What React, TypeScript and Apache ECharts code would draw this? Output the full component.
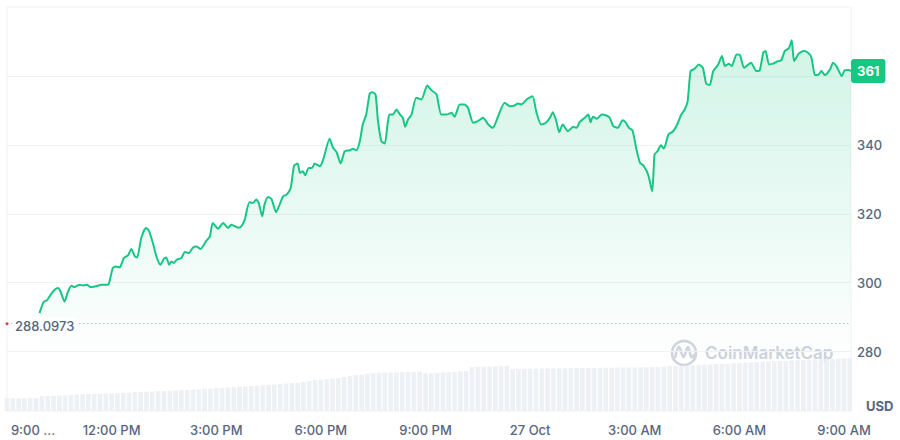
import React, { useEffect, useRef } from 'react';
import * as echarts from 'echarts';

// X axis: minutes since 9:00 AM (26 Oct), one tick every 3 hours
const xTickLabels = ['9:00 ...', '12:00 PM', '3:00 PM', '6:00 PM', '9:00 PM', '27 Oct', '3:00 AM', '6:00 AM', '9:00 AM'];
const xTickStepMinutes = 180;
const xMaxMinutes = 1452;

const openPrice = 288.0973;

const priceMinutes = [
  56, 63, 69, 75, 82, 88, 92, 99, 105, 111, 116, 125, 131, 138, 143, 151, 156, 162, 174, 177,
  182, 187, 194, 201, 208, 214, 220, 224, 231, 239, 244, 251, 257, 264, 270, 274, 279, 283, 287, 292,
  300, 306, 313, 320, 326, 333, 343, 349, 354, 363, 372, 380, 386, 398, 403, 409, 417, 423, 429, 433,
  439, 443, 449, 455, 463, 469, 475, 481, 488, 494, 500, 504, 509, 513, 519, 525, 529, 538, 544, 555,
  561, 567, 574, 581, 590, 595, 601, 607, 612, 618, 624, 628, 634, 638, 644, 650, 655, 658, 664, 670,
  676, 681, 685, 690, 696, 704, 713, 723, 730, 739, 747, 756, 765, 770, 779, 787, 793, 802, 810, 819,
  828, 836, 845, 856, 865, 873, 879, 885, 894, 904, 911, 919, 927, 934, 939, 945, 950, 956, 965, 974,
  980, 985, 994, 1000, 1004, 1008, 1015, 1023, 1031, 1037, 1043, 1051, 1059, 1064, 1070, 1076, 1083, 1089, 1095, 1103,
  1110, 1114, 1119, 1125, 1130, 1138, 1146, 1153, 1160, 1166, 1171, 1176, 1183, 1190, 1197, 1203, 1209, 1215, 1223, 1230,
  1235, 1242, 1247, 1255, 1261, 1268, 1280, 1289, 1295, 1301, 1305, 1311, 1318, 1326, 1332, 1338, 1345, 1350, 1354, 1362,
  1370, 1378, 1384, 1390, 1395, 1401, 1407, 1416, 1421, 1427, 1436, 1441, 1448, 1452,
];

const priceValues = [
  291.16, 294.36, 294.94, 296.48, 297.94, 298.43, 297.44, 294.53, 297.44, 299.10, 298.72, 299.39, 299.19, 299.39, 298.72, 298.90, 299.10, 299.39, 299.39, 300.84,
  304.24, 304.71, 304.42, 307.15, 307.91, 309.77, 307.62, 307.33, 312.97, 315.87, 315.09, 311.51, 307.62, 305.20, 306.95, 307.33, 305.20, 306.16, 305.70, 306.66,
  307.15, 308.90, 308.60, 310.23, 310.52, 309.77, 312.18, 313.43, 317.33, 315.67, 317.33, 315.87, 316.83, 315.96, 316.34, 318.28, 323.31, 323.14, 324.10, 323.14,
  319.24, 322.65, 324.88, 324.30, 320.41, 322.65, 325.06, 325.55, 327.50, 333.98, 334.56, 331.86, 332.33, 331.16, 333.31, 333.31, 334.56, 333.78, 335.73, 341.74,
  339.13, 337.85, 334.56, 338.14, 338.43, 338.84, 338.43, 341.05, 345.90, 348.81, 354.91, 355.29, 354.62, 347.35, 341.05, 340.38, 346.40, 348.81, 348.81, 350.26,
  348.81, 347.85, 345.23, 347.35, 348.81, 353.66, 353.17, 357.24, 355.87, 354.62, 348.81, 348.81, 349.30, 348.14, 351.72, 351.72, 350.76, 346.40, 346.86, 347.85,
  345.90, 344.94, 348.31, 352.21, 351.22, 351.42, 352.01, 351.72, 353.17, 354.13, 349.30, 345.90, 346.40, 347.85, 349.48, 346.86, 343.66, 345.90, 343.95, 345.23,
  344.94, 346.57, 347.85, 348.81, 346.57, 348.14, 347.56, 348.81, 348.52, 347.85, 345.41, 344.94, 347.15, 346.57, 344.94, 344.24, 338.63, 334.77, 333.98, 331.37,
  326.51, 337.18, 338.14, 339.88, 338.92, 342.99, 343.95, 345.90, 348.81, 350.26, 352.67, 361.40, 362.09, 363.34, 362.38, 357.73, 357.33, 361.40, 363.14, 365.76,
  362.85, 363.55, 362.85, 366.25, 366.05, 362.38, 363.84, 361.40, 361.60, 366.74, 367.21, 363.34, 363.55, 364.30, 364.51, 367.21, 367.99, 370.32, 364.30, 366.45,
  367.21, 366.74, 365.29, 360.23, 360.23, 361.40, 360.23, 361.89, 363.84, 362.85, 359.94, 361.60, 361.70, 361.40,
];

// Volume bars, one every 10 minutes from 9:00 AM, in millions USD
const volumeStepMinutes = 10;
const volumeValues = [
  127, 127, 128, 127, 129, 130, 150, 152, 153, 154,
  156, 162, 165, 167, 170, 171, 173, 175, 176, 178,
  180, 183, 188, 190, 193, 195, 198, 200, 203, 205,
  208, 210, 212, 215, 220, 223, 228, 230, 235, 238,
  242, 246, 250, 253, 258, 261, 265, 270, 275, 280,
  283, 290, 300, 308, 312, 320, 326, 330, 340, 350,
  358, 365, 374, 378, 380, 382, 385, 386, 388, 390,
  393, 393, 378, 376, 379, 384, 388, 392, 396, 400,
  437, 440, 443, 445, 446, 448, 450, 420, 422, 423,
  424, 425, 425, 426, 426, 427, 427, 428, 428, 429,
  430, 430, 432, 433, 433, 434, 434, 435, 435, 436,
  436, 437, 440, 446, 448, 450, 452, 455, 458, 460,
  463, 466, 469, 472, 474, 477, 480, 483, 486, 490,
  493, 496, 498, 501, 503, 506, 508, 510, 513, 515,
  518, 520, 522, 524, 526, 527,
];

const LABEL_COLOR = '#58667e';
const FONT = 'Inter, "Noto Sans", sans-serif';

export default function App() {
  const ref = useRef<HTMLDivElement>(null);

  useEffect(() => {
    if (!ref.current) return;
    const chart = echarts.init(ref.current, null, { renderer: 'svg' });

    const n = Math.min(priceMinutes.length, priceValues.length);
    const priceData: [number, number][] = [];
    for (let i = 0; i < n; i++) priceData.push([priceMinutes[i], priceValues[i]]);
    const volumeData = volumeValues.map((v, i) => [i * volumeStepMinutes, v]);

    const option: any = {
      animation: false,
      backgroundColor: '#ffffff',
      textStyle: { fontFamily: FONT },
      grid: [
        { left: 7, right: 49, top: 7, bottom: 19.5, show: false },
        { left: 7, right: 49, top: 340, bottom: 29, show: false },
        {
          left: 7, right: 49, top: 7, bottom: 29, show: true,
          borderColor: '#eff2f5', borderWidth: 1, backgroundColor: 'transparent',
        },
      ],
      xAxis: [
        { gridIndex: 0, type: 'value', min: 0, max: xMaxMinutes, interval: xTickStepMinutes, show: false },
        {
          gridIndex: 1, type: 'value', min: 0, max: xMaxMinutes, interval: xTickStepMinutes,
          axisLine: { show: false }, axisTick: { show: false }, splitLine: { show: false },
          axisLabel: {
            margin: 12, color: LABEL_COLOR, fontSize: 13, fontWeight: 500, fontFamily: FONT,
            formatter: (v: number) => {
              if (v % xTickStepMinutes !== 0) return '';
              const label = xTickLabels[Math.round(v / xTickStepMinutes)] ?? '';
              return v === 0 ? '{first|' + label + '}' : label;
            },
            rich: {
              first: { padding: [0, 0, 0, 52], color: LABEL_COLOR, fontSize: 13, fontWeight: 500, fontFamily: FONT },
            },
          },
        },
        { gridIndex: 2, type: 'value', min: 0, max: 1, show: false },
      ],
      yAxis: [
        {
          gridIndex: 0, type: 'value', position: 'right', min: 260, max: 380, interval: 20,
          axisLine: { show: false }, axisTick: { show: false },
          axisLabel: {
            margin: 6, color: LABEL_COLOR, fontSize: 13, fontWeight: 500, fontFamily: FONT,
            formatter: (v: number) => (v === 260 || v === 360 || v === 380 ? '' : String(v)),
          },
          splitLine: {
            show: true,
            lineStyle: {
              color: ['transparent', '#eff2f5', '#eff2f5', '#eff2f5', '#eff2f5', '#eff2f5', 'transparent'],
              width: 1,
            },
          },
        },
        { gridIndex: 1, type: 'value', min: 0, max: 710, show: false },
        { gridIndex: 2, type: 'value', min: 0, max: 1, show: false },
      ],
      graphic: [
        {
          type: 'text', left: 866, top: 399, silent: true,
          style: { text: 'USD', fill: LABEL_COLOR, font: 'bold 13px Inter, sans-serif' },
        },
        {
          type: 'group', silent: true, z: 5,
          children: [
            {
              type: 'circle', shape: { cx: 684, cy: 353, r: 12 },
              style: { fill: 'none', stroke: '#cfd5df', lineWidth: 2.6 },
            },
            {
              type: 'polyline',
              shape: { points: [[675, 358], [679, 347], [683.5, 357], [688, 347], [691.5, 357], [695, 354]], smooth: 0.4 },
              style: { fill: 'none', stroke: '#cfd5df', lineWidth: 2.6 },
            },
            {
              type: 'text', x: 705, y: 344,
              style: { text: 'CoinMarketCap', fill: '#cbd2dc', font: '600 17px Inter, sans-serif' },
            },
          ],
        },
      ],
      series: [
        {
          type: 'line', xAxisIndex: 0, yAxisIndex: 0, data: priceData,
          showSymbol: false, smooth: 0.2, z: 2,
          lineStyle: { color: '#16c784', width: 2 },
          areaStyle: {
            color: new echarts.graphic.LinearGradient(0, 0, 0, 1, [
              { offset: 0, color: 'rgba(22,199,132,0.28)' },
              { offset: 0.85, color: 'rgba(22,199,132,0)' },
              { offset: 1, color: 'rgba(22,199,132,0)' },
            ]),
          },
          endLabel: {
            show: true,
            formatter: (p: any) => String(Math.round(p.value[1])),
            backgroundColor: '#16c784', color: '#ffffff', fontWeight: 700, fontSize: 13, fontFamily: FONT,
            padding: [6, 6, 5, 6], borderRadius: 3, distance: 0,
          },
          markLine: {
            silent: true, symbol: ['none', 'none'],
            lineStyle: { color: '#b8c0cc', type: [1.5, 2.5], width: 1 },
            label: {
              show: true, position: 'insideStartTop', formatter: String(openPrice),
              color: LABEL_COLOR, fontSize: 13, fontWeight: 500, fontFamily: FONT,
              backgroundColor: '#ffffff', padding: [2, 3], distance: 0, offset: [5, 11],
            },
            data: [{ yAxis: openPrice }],
          },
          markPoint: {
            silent: true, symbol: 'circle', symbolSize: 3,
            itemStyle: { color: '#ea3943' }, label: { show: false },
            data: [{ coord: [0, openPrice] }],
          },
        },
        {
          type: 'bar', xAxisIndex: 1, yAxisIndex: 1, data: volumeData, barWidth: 4.6,
          itemStyle: { color: '#edf0f4' }, silent: true, z: 3,
        },
      ],
    };

    chart.setOption(option);
    return () => chart.dispose();
  }, []);

  return <div ref={ref} style={{ position: 'fixed', left: 0, top: 0, width: 900, height: 440 }} />;
}
